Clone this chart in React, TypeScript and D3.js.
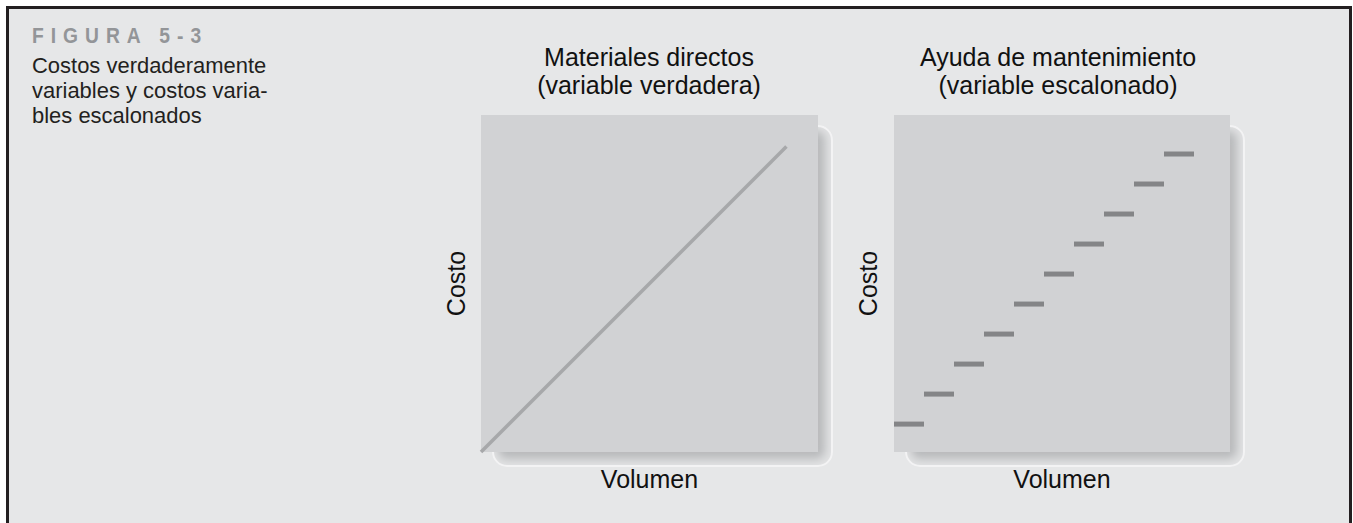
import React, { Component } from "react";
import * as d3 from "d3";

const figureLabel = "FIGURA 5-3";
const captionLines = ["Costos verdaderamente", "variables y costos varia-", "bles escalonados"];

const trueTitle = ["Materiales directos", "(variable verdadera)"];
const stepTitle = ["Ayuda de mantenimiento", "(variable escalonado)"];
const xLabel = "Volumen";
const yLabel = "Costo";

// true variable cost: a straight line from the origin
const trueVolume = [0, 10];
const trueCost = [0, 10];

// step variable cost: one flat segment per unit of volume
const stepFrom = [0, 1, 2, 3, 4, 5, 6, 7, 8, 9];
const stepTo = [1, 2, 3, 4, 5, 6, 7, 8, 9, 10];
const stepCost = [1, 2, 3, 4, 5, 6, 7, 8, 9, 10];

const W = 1353;
const H = 523;
const FONT = "'Liberation Sans', Arial, Helvetica, sans-serif";

class App extends Component {
  svgRef = React.createRef<SVGSVGElement>();

  componentDidMount() {
    this.renderChart();
  }

  componentDidUpdate() {
    this.renderChart();
  }

  renderChart() {
    const svg = d3.select(this.svgRef.current);
    svg.selectAll("*").remove();
    svg.attr("width", W).attr("height", H);

    const defs = svg.append("defs");
    defs.append("filter")
      .attr("id", "soft")
      .attr("x", "-20%").attr("y", "-20%")
      .attr("width", "140%").attr("height", "140%")
      .append("feGaussianBlur")
      .attr("stdDeviation", 5);

    svg.append("rect").attr("width", W).attr("height", H).attr("fill", "#ffffff");

    // frame
    svg.append("rect")
      .attr("x", 7.5).attr("y", 7.5)
      .attr("width", 1343).attr("height", 540)
      .attr("fill", "#e6e7e8")
      .attr("stroke", "#231f20")
      .attr("stroke-width", 3);

    // caption in the top left corner
    svg.append("text")
      .attr("transform", "translate(32,43) scale(0.875,1)")
      .style("font-family", FONT)
      .style("font-size", "22px")
      .style("font-weight", "bold")
      .style("letter-spacing", "8px")
      .attr("fill", "#939598")
      .text(figureLabel);

    const body = svg.append("text")
      .attr("transform", "translate(32,0) scale(0.985,1)")
      .style("font-family", FONT)
      .style("font-size", "22.3px")
      .attr("fill", "#231f20");
    captionLines.forEach((line, i) => {
      body.append("tspan").attr("x", 0).attr("y", 73 + i * 25).text(line);
    });

    const size = 337;
    const top = 115;

    const drawPanel = (id: string, left: number, width: number, title: string[], titleX: number, costX: number) => {
      const g = svg.append("g");

      // rounded drop shadow behind the panel
      const sx = left + 11, sy = top + 10, sw = width + 4, sh = size + 5;
      defs.append("clipPath").attr("id", "clip-" + id)
        .append("rect")
        .attr("x", sx).attr("y", sy).attr("width", sw).attr("height", sh).attr("rx", 15);

      const shade = g.append("g").attr("clip-path", `url(#clip-${id})`);
      shade.append("rect")
        .attr("x", sx).attr("y", sy).attr("width", sw).attr("height", sh)
        .attr("fill", "#e2e3e4");
      shade.append("rect")
        .attr("x", sx + 6).attr("y", sy + 6).attr("width", sw - 14).attr("height", sh - 14)
        .attr("rx", 8)
        .attr("fill", "#b8b9bb")
        .attr("filter", "url(#soft)");

      g.append("rect")
        .attr("x", sx + 1).attr("y", sy + 1).attr("width", sw - 2).attr("height", sh - 2)
        .attr("rx", 14)
        .attr("fill", "none")
        .attr("stroke", "#f3f3f4")
        .attr("stroke-width", 2);

      g.append("rect")
        .attr("x", left).attr("y", top)
        .attr("width", width).attr("height", size)
        .attr("fill", "#d1d2d4");

      const t = g.append("text")
        .attr("x", titleX)
        .style("font-family", FONT)
        .style("font-size", "25px")
        .style("text-anchor", "middle")
        .attr("fill", "#111111");
      title.forEach((line, i) => {
        t.append("tspan").attr("x", titleX).attr("y", 66 + i * 28).text(line);
      });

      g.append("text")
        .attr("x", left + width / 2)
        .attr("y", 488)
        .style("font-family", FONT)
        .style("font-size", "25px")
        .style("text-anchor", "middle")
        .attr("fill", "#111111")
        .text(xLabel);

      g.append("text")
        .attr("transform", `translate(${costX}, ${top + size / 2}) rotate(-90)`)
        .style("font-family", FONT)
        .style("font-size", "25px")
        .style("text-anchor", "middle")
        .attr("fill", "#111111")
        .text(yLabel);

      return g;
    };

    // left panel: true variable cost
    const left1 = 481;
    const g1 = drawPanel("a", left1, size, trueTitle, 649, 465);
    const x1 = d3.scaleLinear().domain([0, 11]).range([left1, left1 + size - 1]);
    const y1 = d3.scaleLinear().domain([0, 11]).range([top + size, top + 1]);
    const line = d3.line<number>()
      .x((d, i) => x1(trueVolume[i]))
      .y(d => y1(d));
    g1.append("path")
      .datum(trueCost)
      .attr("d", line)
      .attr("fill", "none")
      .attr("stroke", "#a7a8aa")
      .attr("stroke-width", 3.5);

    // right panel: step variable cost
    const left2 = 894;
    const w2 = 336;
    const g2 = drawPanel("b", left2, w2, stepTitle, 1058, 877);
    const x2 = d3.scaleLinear().domain([0, 11.2]).range([left2, left2 + w2]);
    const y2 = d3.scaleLinear().domain([0.07, 11.3]).range([top + size, top]);
    g2.selectAll("line.step")
      .data(stepCost)
      .join("line")
      .attr("class", "step")
      .attr("x1", (d, i) => x2(stepFrom[i]))
      .attr("x2", (d, i) => x2(stepTo[i]))
      .attr("y1", d => y2(d))
      .attr("y2", d => y2(d))
      .attr("stroke", "#848587")
      .attr("stroke-width", 5);
  }

  render() {
    return <svg ref={this.svgRef} style={{ position: "absolute", left: 0, top: 0, display: "block" }} />;
  }
}

export default App;
